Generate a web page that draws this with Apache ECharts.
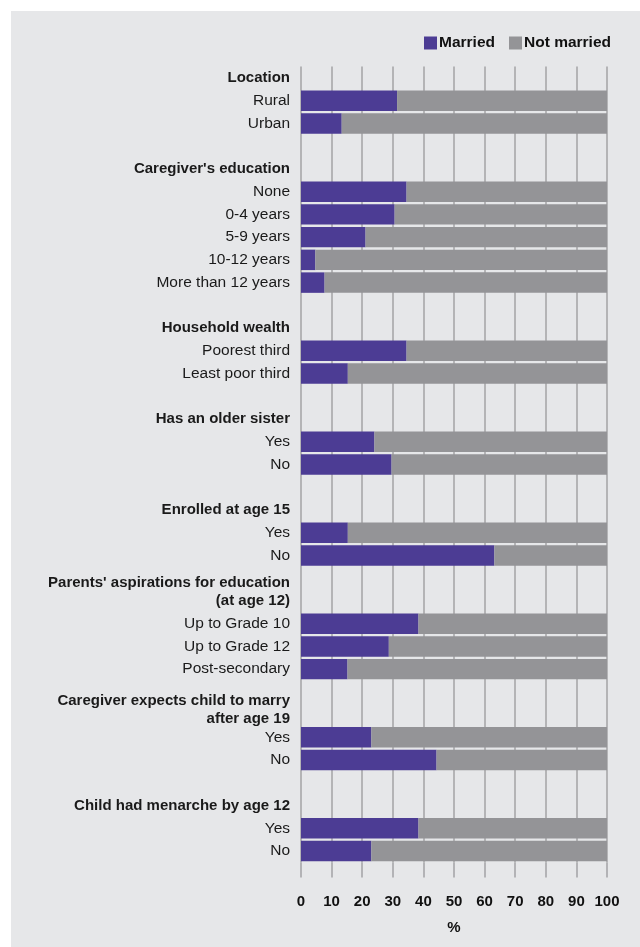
<!DOCTYPE html>
<html>
<head>
<meta charset="utf-8">
<script src="https://cdn.jsdelivr.net/npm/echarts@6/dist/echarts.min.js"></script>
<style>
  html, body { margin: 0; padding: 0; background: #ffffff; }
  #chart { position: absolute; left: 11px; top: 11px; width: 629px; height: 936px; }
</style>
</head>
<body>
<div id="chart"></div>
<script>
// Row labels, top to bottom ('' = spacer row)
var categories = [
  "Location", "Rural", "Urban", "",
  "Caregiver's education", "None", "0-4 years", "5-9 years", "10-12 years", "More than 12 years", "",
  "Household wealth", "Poorest third", "Least poor third", "",
  "Has an older sister", "Yes", "No", "",
  "Enrolled at age 15", "Yes", "No",
  "Parents' aspirations for education", "(at age 12)",
  "Up to Grade 10", "Up to Grade 12", "Post-secondary",
  "Caregiver expects child to marry\nafter age 19", "",
  "Yes", "No", "",
  "Child had menarche by age 12", "Yes", "No"
];
// Group headings (shown in bold)
var groupHeaders = [
  "Location", "Caregiver's education", "Household wealth", "Has an older sister",
  "Enrolled at age 15", "Parents' aspirations for education", "(at age 12)",
  "Caregiver expects child to marry\nafter age 19", "Child had menarche by age 12"
];
// % married
var married = [
  null, 31.4, 13.3, null,
  null, 34.5, 30.6, 21.1, 4.7, 7.7, null,
  null, 34.5, 15.3, null,
  null, 24.0, 29.6, null,
  null, 15.3, 63.2,
  null, null,
  38.4, 28.7, 15.2,
  null, null,
  23.0, 44.3, null,
  null, 38.4, 23.0
];
// % not married
var notMarried = [
  null, 68.6, 86.7, null,
  null, 65.5, 69.4, 78.9, 95.3, 92.3, null,
  null, 65.5, 84.7, null,
  null, 76.0, 70.4, null,
  null, 84.7, 36.8,
  null, null,
  61.6, 71.3, 84.8,
  null, null,
  77.0, 55.7, null,
  null, 61.6, 77.0
];
var seriesNames = ["Married", "Not married"];
var xTicks = { min: 0, max: 100, step: 10 };

var FONT = "'Liberation Sans', Arial, sans-serif";
var yData = categories.map(function (c) {
  if (groupHeaders.indexOf(c) >= 0) {
    var style = { fontWeight: 'bold', fontSize: 15 };
    if (c === "Parents' aspirations for education") {
      style.lineHeight = 10;
      style.verticalAlign = 'top';
    } else if (c.indexOf('\n') >= 0) {
      style.lineHeight = 18;
      style.verticalAlign = 'top';
    }
    return { value: c, textStyle: style };
  }
  return { value: c };
});

var chart = echarts.init(document.getElementById('chart'), null, { renderer: 'canvas' });
chart.setOption({
  animation: false,
  backgroundColor: '#e6e7e9',
  textStyle: { fontFamily: FONT },
  legend: {
    data: seriesNames,
    right: 24,
    top: 19,
    icon: 'rect',
    itemWidth: 13,
    itemHeight: 13,
    itemGap: 14,
    textStyle: { fontFamily: FONT, fontSize: 15.5, fontWeight: 'bold', color: '#111', padding: [0, 0, 0, -3] }
  },
  grid: { left: 290, right: 33, top: 55.6, bottom: 84.6, outerBoundsMode: 'none' },
  xAxis: {
    type: 'value',
    min: xTicks.min,
    max: xTicks.max,
    interval: xTicks.step,
    axisLine: { show: false },
    axisTick: { show: true, length: 15, lineStyle: { color: '#a3a3a5', width: 1.5 } },
    splitLine: { show: true, lineStyle: { color: '#a3a3a5', width: 1.5 } },
    axisLabel: { fontFamily: FONT, fontSize: 15, fontWeight: 'bold', color: '#111', margin: 32 },
    name: '%',
    nameLocation: 'middle',
    nameGap: 58,
    nameTextStyle: { fontFamily: FONT, fontSize: 15, fontWeight: 'bold', color: '#111' }
  },
  yAxis: {
    type: 'category',
    inverse: true,
    data: yData,
    axisLine: { show: false },
    axisTick: { show: false },
    splitLine: { show: false },
    axisLabel: { interval: 0, fontFamily: FONT, fontSize: 15.5, color: '#1a1a1a', margin: 11 }
  },
  series: [
    {
      name: seriesNames[0],
      type: 'bar',
      stack: 'total',
      barCategoryGap: '10%',
      itemStyle: { color: '#4c3c94' },
      data: married
    },
    {
      name: seriesNames[1],
      type: 'bar',
      stack: 'total',
      barCategoryGap: '10%',
      itemStyle: { color: '#949497' },
      data: notMarried
    }
  ]
});
</script>
</body>
</html>
